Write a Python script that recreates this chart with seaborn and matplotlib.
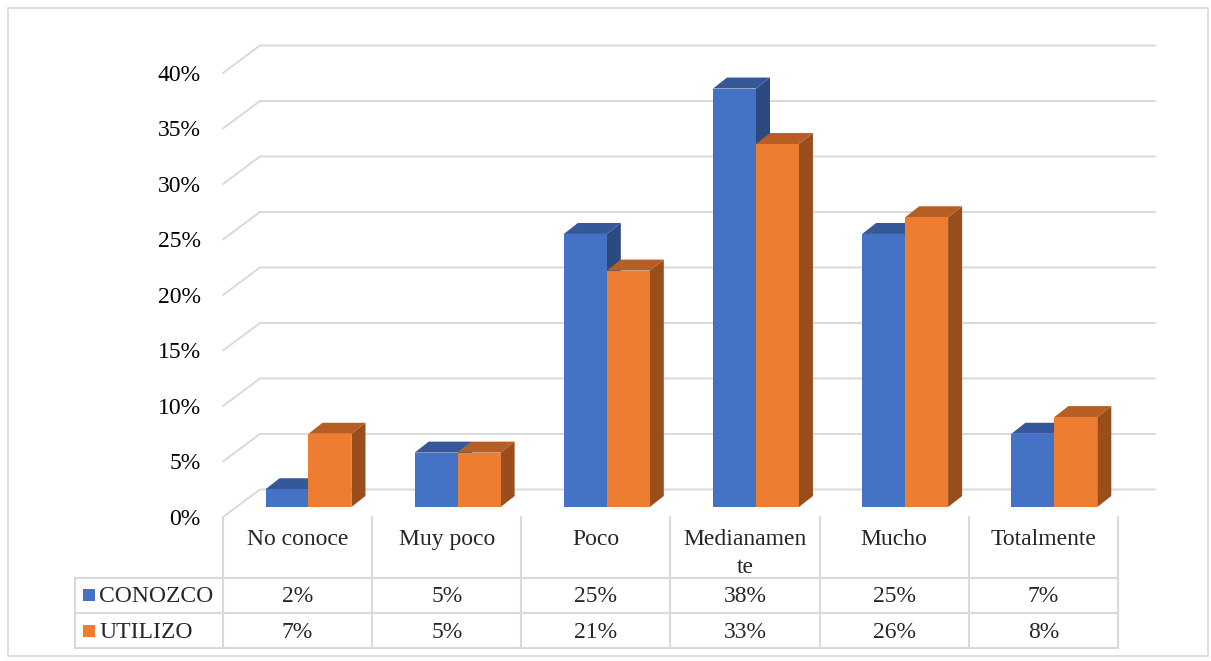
import textwrap
import matplotlib
matplotlib.use("Agg")
import matplotlib.pyplot as plt
from matplotlib.patches import Polygon, Rectangle
from matplotlib.lines import Line2D
import pandas as pd
import seaborn as sns

sns.set_theme(style="white")
plt.rcParams["font.family"] = ["Liberation Serif", "DejaVu Serif"]

# ---------------------------------------------------------------
# Data
# ---------------------------------------------------------------
categorias = ["No conoce", "Muy poco", "Poco", "Medianamente", "Mucho", "Totalmente"]
series = ["CONOZCO", "UTILIZO"]
conozco = [1.6, 4.9, 24.6, 37.7, 24.6, 6.6]
utilizo = [6.6, 4.9, 21.3, 32.7, 26.1, 8.1]
yticks = [0, 5, 10, 15, 20, 25, 30, 35, 40]

FRONT = ["#4472C4", "#ED7D31"]
TOP = ["#34589A", "#B65E23"]
SIDE = ["#2C4A80", "#994E1C"]
GRID = "#D9D9D9"
FS = 17

# oblique "3D" offsets in data units (category, percent)
DXF, DYF = -0.073, -0.90   # front edge of floor vs bar plane
DXB, DYB = 0.175, 1.58     # back wall vs bar plane
DDX, DDY = 0.094, 0.99     # depth of each bar

df = pd.DataFrame({
    "categoria": categorias * 2,
    "valor": conozco + utilizo,
    "serie": [series[0]] * len(categorias) + [series[1]] * len(categorias),
})


def pct(v):
    # half-up rounding, like the spreadsheet table
    return f"{int(v + 0.5)}%"


W, H = 1211, 661
fig = plt.figure(figsize=(W / 100, H / 100), dpi=100)
ax = fig.add_axes([223 / W, (H - 517) / H, 895 / W, (517 - 35.25) / H])

sns.barplot(data=df, x="categoria", y="valor", hue="serie", order=categorias,
            hue_order=series, palette=FRONT, saturation=1, width=0.576,
            linewidth=0, errorbar=None, legend=False, ax=ax, zorder=3)

n = len(categorias)
ax.set_xlim(-0.5 + DXF, n - 0.5 + DXF)
ax.set_ylim(DYF, 42.5)

# back wall gridlines with the diagonal to the front edge
for v in yticks:
    ax.plot([-0.5 + DXF, -0.5 + DXB, n - 0.5 + DXB], [v + DYF, v + DYB, v + DYB],
            color=GRID, lw=1.4, zorder=1, clip_on=False)

# top and side faces of each bar
for k, cont in enumerate(ax.containers):
    for p in cont.patches:
        x0, w, h = p.get_x(), p.get_width(), p.get_height()
        top = [(x0, h), (x0 + w, h), (x0 + w + DDX, h + DDY), (x0 + DDX, h + DDY)]
        side = [(x0 + w, 0), (x0 + w + DDX, DDY), (x0 + w + DDX, h + DDY), (x0 + w, h)]
        ax.add_patch(Polygon(side, closed=True, facecolor=SIDE[k], lw=0, zorder=2))
        ax.add_patch(Polygon(top, closed=True, facecolor=TOP[k], lw=0, zorder=2))

ax.set_yticks([v + DYF for v in yticks])
ax.set_yticklabels([f"{v}%" for v in yticks], fontsize=FS, color="black")
ax.tick_params(axis="y", length=0, pad=16)
ax.set_xticks([])
ax.set_xlabel("")
ax.set_ylabel("")
for s in ax.spines.values():
    s.set_visible(False)
ax.patch.set_alpha(0)

# ---------------------------------------------------------------
# Data table under the chart
# ---------------------------------------------------------------
to_fig = ax.transData + fig.transFigure.inverted()


def fx(xd):
    return to_fig.transform((xd, 0))[0]


def fy(py):
    return (H - py) / H


bounds = [fx(i - 0.5 + DXF) for i in range(n + 1)]
leg_left = 75 / W
row_lines = [578, 613, 648]

for b in bounds:
    fig.add_artist(Line2D([b, b], [fy(517), fy(648)], color=GRID, lw=1.5))
fig.add_artist(Line2D([leg_left, leg_left], [fy(578), fy(648)], color=GRID, lw=1.5))
for r in row_lines:
    fig.add_artist(Line2D([leg_left, bounds[-1]], [fy(r), fy(r)], color=GRID, lw=1.5))

for i, cat in enumerate(categorias):
    cx = (bounds[i] + bounds[i + 1]) / 2
    fig.text(cx, fy(529), "\n".join(textwrap.wrap(cat, 10)), ha="center", va="top",
             fontsize=FS, linespacing=1.42)
    fig.text(cx, fy(596), pct(conozco[i]), ha="center", va="center", fontsize=FS)
    fig.text(cx, fy(632), pct(utilizo[i]), ha="center", va="center", fontsize=FS)

for k, (name, cy) in enumerate(zip(series, [595, 631])):
    fig.add_artist(Rectangle((83 / W, fy(cy + 6)), 12 / W, 12 / H, facecolor=FRONT[k],
                             lw=0, transform=fig.transFigure))
    fig.text(99 / W, fy(cy + 1), name, ha="left", va="center", fontsize=FS)

# outer frame
fig.add_artist(Rectangle((8 / W, fy(656)), 1200 / W, 648 / H, facecolor="none",
                         edgecolor=GRID, lw=1.2, transform=fig.transFigure))

fig.savefig("out.png", dpi=100)
